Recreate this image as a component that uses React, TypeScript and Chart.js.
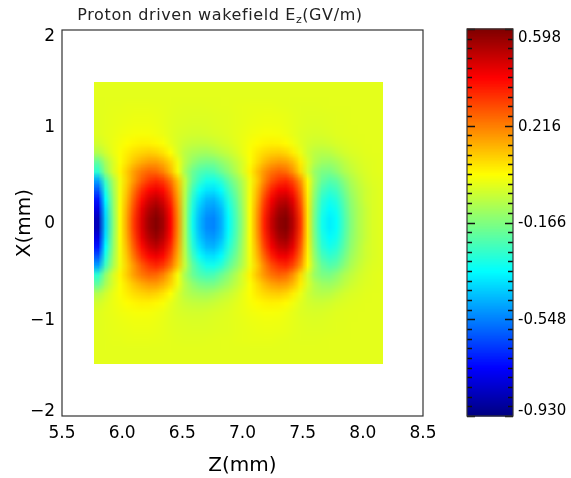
import React, { useEffect, useRef } from "react";
import { Chart, registerables } from "chart.js";

Chart.register(...registerables);

// ---- data ----
const zCenters = [
  5.80, 5.86, 5.92, 5.98, 6.04, 6.10, 6.16, 6.22, 6.28, 6.34,
  6.40, 6.46, 6.52, 6.58, 6.64, 6.70, 6.76, 6.82, 6.88, 6.94,
  7.00, 7.06, 7.12, 7.18, 7.24, 7.30, 7.36, 7.42, 7.48, 7.54,
  7.60, 7.66, 7.72, 7.78, 7.84, 7.90, 7.96, 8.02, 8.08, 8.14,
];
// |X| of each row (field is axisymmetric, mirrored for negative X)
const xHalfCenters = [
  0.049, 0.146, 0.243, 0.341, 0.438, 0.535, 0.632, 0.730, 0.827, 0.924,
  1.022, 1.119, 1.216, 1.314, 1.411,
];
// Ez (GV/m), row i corresponds to xHalfCenters[i], column j to zCenters[j]
const ezRow0 = [-0.84,-0.42,-0.17,0.02,0.17,0.33,0.46,0.55,0.59,0.54,0.41,0.20,-0.10,-0.33,-0.46,-0.53,-0.54,-0.48,-0.36,-0.25,-0.13,0.02,0.18,0.36,0.49,0.57,0.59,0.51,0.33,0.06,-0.19,-0.33,-0.38,-0.35,-0.25,-0.16,-0.10,-0.06,-0.03,-0.02];
const ezRow1 = [-0.78,-0.40,-0.16,0.02,0.16,0.31,0.44,0.52,0.56,0.51,0.39,0.19,-0.10,-0.31,-0.44,-0.50,-0.51,-0.46,-0.34,-0.24,-0.12,0.02,0.17,0.34,0.46,0.54,0.56,0.48,0.31,0.06,-0.18,-0.31,-0.36,-0.33,-0.24,-0.15,-0.10,-0.06,-0.03,-0.02];
const ezRow2 = [-0.71,-0.36,-0.15,0.015,0.14,0.28,0.39,0.47,0.505,0.46,0.35,0.17,-0.09,-0.29,-0.40,-0.46,-0.47,-0.415,-0.31,-0.22,-0.11,0.015,0.15,0.31,0.42,0.49,0.505,0.44,0.28,0.05,-0.165,-0.29,-0.33,-0.30,-0.22,-0.14,-0.09,-0.05,-0.03,-0.02];
const ezRow3 = [-0.61,-0.315,-0.13,0.01,0.12,0.24,0.34,0.40,0.43,0.395,0.30,0.145,-0.08,-0.25,-0.345,-0.395,-0.40,-0.36,-0.27,-0.19,-0.10,0.01,0.13,0.26,0.36,0.42,0.43,0.37,0.24,0.04,-0.145,-0.25,-0.285,-0.26,-0.19,-0.12,-0.08,-0.05,-0.03,-0.02];
const ezRow4 = [-0.50,-0.26,-0.11,0.005,0.10,0.19,0.27,0.325,0.35,0.32,0.24,0.115,-0.065,-0.205,-0.28,-0.325,-0.33,-0.295,-0.22,-0.155,-0.085,0.005,0.10,0.21,0.29,0.335,0.35,0.30,0.19,0.03,-0.12,-0.205,-0.235,-0.215,-0.155,-0.10,-0.065,-0.04,-0.025,-0.02];
const ezRow5 = [-0.29,-0.14,-0.04,0.035,0.105,0.175,0.225,0.255,0.25,0.21,0.13,0.015,-0.105,-0.19,-0.235,-0.255,-0.245,-0.20,-0.15,-0.095,-0.035,0.04,0.115,0.185,0.235,0.26,0.245,0.185,0.08,-0.04,-0.13,-0.17,-0.175,-0.145,-0.10,-0.07,-0.045,-0.03,-0.02,-0.015];
const ezRow6 = [-0.21,-0.105,-0.035,0.02,0.07,0.115,0.15,0.17,0.17,0.14,0.09,0.005,-0.08,-0.135,-0.17,-0.18,-0.175,-0.145,-0.11,-0.07,-0.03,0.02,0.075,0.125,0.16,0.175,0.165,0.125,0.05,-0.03,-0.09,-0.12,-0.125,-0.105,-0.075,-0.05,-0.035,-0.025,-0.02,-0.015];
const ezRow7 = [-0.09,-0.045,-0.008,0.02,0.05,0.075,0.09,0.10,0.09,0.065,0.025,-0.03,-0.075,-0.10,-0.11,-0.115,-0.10,-0.08,-0.06,-0.037,-0.008,0.022,0.056,0.08,0.096,0.10,0.085,0.05,0.0,-0.048,-0.075,-0.085,-0.08,-0.06,-0.043,-0.03,-0.024,-0.018,-0.016,-0.015];
const ezRow8 = [-0.043,-0.021,-0.004,0.012,0.026,0.037,0.044,0.043,0.034,0.017,-0.009,-0.035,-0.053,-0.063,-0.067,-0.065,-0.056,-0.044,-0.033,-0.019,-0.004,0.014,0.029,0.040,0.045,0.042,0.029,0.006,-0.020,-0.040,-0.049,-0.050,-0.044,-0.034,-0.027,-0.022,-0.018,-0.016,-0.015,-0.015];
const ezRow9 = [-0.023,-0.013,-0.006,0.002,0.009,0.013,0.015,0.013,0.006,-0.004,-0.019,-0.031,-0.037,-0.041,-0.041,-0.038,-0.032,-0.027,-0.021,-0.013,-0.005,0.004,0.010,0.014,0.015,0.011,0.002,-0.011,-0.024,-0.031,-0.033,-0.032,-0.027,-0.022,-0.019,-0.017,-0.016,-0.015,-0.015,-0.015];
const ezRow10 = [-0.020,-0.014,-0.009,-0.005,-0.001,0.002,0.003,0.002,-0.002,-0.009,-0.018,-0.024,-0.028,-0.030,-0.031,-0.029,-0.025,-0.022,-0.018,-0.014,-0.009,-0.004,0.000,0.003,0.003,0.001,-0.005,-0.013,-0.020,-0.024,-0.026,-0.025,-0.022,-0.019,-0.018,-0.016,-0.015,-0.015,-0.015,-0.015];
const ezRow11 = [-0.018,-0.014,-0.011,-0.008,-0.006,-0.004,-0.003,-0.004,-0.006,-0.011,-0.017,-0.021,-0.023,-0.025,-0.025,-0.024,-0.022,-0.020,-0.018,-0.014,-0.011,-0.008,-0.005,-0.003,-0.003,-0.005,-0.008,-0.014,-0.019,-0.022,-0.022,-0.022,-0.020,-0.018,-0.017,-0.015,-0.015,-0.015,-0.015,-0.015];
const ezRow12 = [-0.017,-0.015,-0.013,-0.012,-0.010,-0.009,-0.009,-0.009,-0.011,-0.013,-0.016,-0.018,-0.020,-0.020,-0.020,-0.018,-0.017,-0.016,-0.015,-0.013,-0.011,-0.010,-0.009,-0.009,-0.010,-0.012,-0.014,-0.017,-0.018,-0.019,-0.018,-0.017,-0.016,-0.015,-0.015,-0.015,-0.015,-0.015,-0.015,-0.015];
const ezRow13 = [-0.015,-0.015,-0.015,-0.015,-0.015,-0.015,-0.015,-0.015,-0.015,-0.015,-0.015,-0.015,-0.015,-0.015,-0.015,-0.015,-0.015,-0.015,-0.015,-0.015,-0.015,-0.015,-0.015,-0.015,-0.015,-0.015,-0.015,-0.015,-0.015,-0.015,-0.015,-0.015,-0.015,-0.015,-0.015,-0.015,-0.015,-0.015,-0.015,-0.015];
const ezRow14 = [-0.015,-0.015,-0.015,-0.015,-0.015,-0.015,-0.015,-0.015,-0.015,-0.015,-0.015,-0.015,-0.015,-0.015,-0.015,-0.015,-0.015,-0.015,-0.015,-0.015,-0.015,-0.015,-0.015,-0.015,-0.015,-0.015,-0.015,-0.015,-0.015,-0.015,-0.015,-0.015,-0.015,-0.015,-0.015,-0.015,-0.015,-0.015,-0.015,-0.015];
const ezHalfRows = [ezRow0, ezRow1, ezRow2, ezRow3, ezRow4, ezRow5, ezRow6, ezRow7, ezRow8, ezRow9, ezRow10, ezRow11, ezRow12, ezRow13, ezRow14];

const zTicks = [5.5, 6.0, 6.5, 7.0, 7.5, 8.0, 8.5];
const xTicks = [-2, -1, 0, 1, 2];
const colorbarTicks = [-0.930, -0.548, -0.166, 0.216, 0.598];
const colorMin = -0.930;
const colorMax = 0.598;

// ---- helpers ----
const clamp01 = (v: number) => Math.max(0, Math.min(1, v));
function jet(t: number): [number, number, number] {
  t = clamp01(t);
  const r = clamp01(1.5 - Math.abs(4 * t - 3));
  const g = clamp01(1.5 - Math.abs(4 * t - 2));
  const b = clamp01(1.5 - Math.abs(4 * t - 1));
  return [Math.round(r * 255), Math.round(g * 255), Math.round(b * 255)];
}
const norm = (v: number) => (v - colorMin) / (colorMax - colorMin);
const FONT = "'DejaVu Sans', sans-serif";

const heatmapPlugin = {
  id: "heatmap",
  beforeDatasetsDraw(chart: any) {
    const { ctx, scales } = chart;
    const xs = scales.x, ys = scales.y;
    const rows = [...ezHalfRows].reverse().concat(ezHalfRows);
    const nC = zCenters.length;
    const nR = rows.length;
    const off = document.createElement("canvas");
    off.width = nC;
    off.height = nR;
    const octx = off.getContext("2d")!;
    const img = octx.createImageData(nC, nR);
    rows.forEach((row, r) => {
      row.forEach((v, c) => {
        const [R, G, B] = jet(norm(v));
        const i = (r * nC + c) * 4;
        img.data[i] = R; img.data[i + 1] = G; img.data[i + 2] = B; img.data[i + 3] = 255;
      });
    });
    octx.putImageData(img, 0, 0);
    const dz = zCenters[1] - zCenters[0];
    const dx = xHalfCenters[1] - xHalfCenters[0];
    const xMaxEdge = xHalfCenters[xHalfCenters.length - 1] + dx / 2;
    const left = xs.getPixelForValue(zCenters[0] - dz / 2);
    const right = xs.getPixelForValue(zCenters[nC - 1] + dz / 2);
    const top = ys.getPixelForValue(xMaxEdge);
    const bottom = ys.getPixelForValue(-xMaxEdge);
    ctx.save();
    ctx.imageSmoothingEnabled = true;
    ctx.drawImage(off, left, top, right - left, bottom - top);
    ctx.restore();
  },
};

const framePlugin = {
  id: "frame",
  afterDraw(chart: any) {
    const { ctx, chartArea: a, scales } = chart;
    ctx.save();
    ctx.strokeStyle = "#333";
    ctx.lineWidth = 1.2;
    ctx.strokeRect(a.left, a.top, a.right - a.left, a.bottom - a.top);
    // Y tick labels (end labels kept inside the frame, as in the original)
    ctx.fillStyle = "#000";
    ctx.font = `17px ${FONT}`;
    ctx.textAlign = "right";
    ctx.textBaseline = "middle";
    xTicks.forEach((v) => {
      let y = scales.y.getPixelForValue(v);
      y = Math.max(a.top + 6, Math.min(a.bottom - 5, y));
      const label = v < 0 ? "\u2212" + Math.abs(v) : String(v);
      ctx.fillText(label, a.left - 7, y + 1);
    });
    ctx.restore();
  },
};

const colorbarPlugin = {
  id: "colorbar",
  beforeDatasetsDraw(chart: any) {
    const { ctx, chartArea: a, scales } = chart;
    const ys = scales.y;
    const steps = 256;
    ctx.save();
    for (let k = 0; k < steps; k++) {
      const v0 = colorMin + ((colorMax - colorMin) * k) / steps;
      const v1 = colorMin + ((colorMax - colorMin) * (k + 1)) / steps;
      const [R, G, B] = jet(norm((v0 + v1) / 2));
      ctx.fillStyle = `rgb(${R},${G},${B})`;
      const y0 = ys.getPixelForValue(v0);
      const y1 = ys.getPixelForValue(v1);
      ctx.fillRect(a.left, Math.min(y0, y1) - 0.5, a.right - a.left, Math.abs(y1 - y0) + 1);
    }
    // tick marks
    ctx.strokeStyle = "#111";
    ctx.lineWidth = 1.3;
    const n = 40;
    for (let k = 0; k <= n; k++) {
      const v = colorMin + ((colorMax - colorMin) * k) / n;
      const y = Math.round(ys.getPixelForValue(v)) + 0.5;
      const len = k % 10 === 0 ? 8 : 5;
      ctx.beginPath();
      ctx.moveTo(a.left, y); ctx.lineTo(a.left + len, y);
      ctx.moveTo(a.right, y); ctx.lineTo(a.right - len, y);
      ctx.stroke();
    }
    ctx.strokeStyle = "#333";
    ctx.lineWidth = 1.2;
    ctx.strokeRect(a.left, a.top, a.right - a.left, a.bottom - a.top);
    // labels
    ctx.fillStyle = "#000";
    ctx.font = `15px ${FONT}`;
    ctx.textAlign = "left";
    ctx.textBaseline = "middle";
    colorbarTicks.forEach((v) => {
      let y = ys.getPixelForValue(v);
      y = Math.max(a.top + 8, Math.min(a.bottom - 6, y));
      ctx.fillText(v.toFixed(3), a.right + 5, y + 1);
    });
    ctx.restore();
  },
};

export default function App() {
  const mainRef = useRef<HTMLCanvasElement>(null);
  const cbRef = useRef<HTMLCanvasElement>(null);

  useEffect(() => {
    document.body.style.margin = "0";
    const main = new Chart(mainRef.current!, {
      type: "scatter",
      data: { datasets: [{ data: [] }] },
      options: {
        responsive: false,
        animation: false,
        layout: { padding: { left: 0, top: 30, right: 148, bottom: 0 } },
        plugins: { legend: { display: false }, tooltip: { enabled: false } },
        scales: {
          x: {
            type: "linear",
            min: 5.5,
            max: 8.5,
            afterBuildTicks: (s: any) => { s.ticks = zTicks.map((v) => ({ value: v })); },
            afterFit: (s: any) => { s.height = 62; },
            grid: { display: false, drawTicks: false },
            border: { display: false },
            ticks: {
              callback: (v: any) => Number(v).toFixed(1),
              padding: 7,
              color: "#000",
              maxRotation: 0,
              autoSkip: false,
              font: { family: FONT, size: 17 },
            },
            title: {
              display: true,
              text: "Z(mm)",
              color: "#000",
              font: { family: FONT, size: 20 },
              padding: { top: 0, bottom: 0 },
            },
          },
          y: {
            type: "linear",
            min: -2,
            max: 2,
            afterBuildTicks: (s: any) => { s.ticks = xTicks.map((v) => ({ value: v })); },
            afterFit: (s: any) => { s.width = 62; },
            grid: { display: false, drawTicks: false },
            border: { display: false },
            ticks: { display: false },
            title: {
              display: true,
              text: "X(mm)",
              color: "#000",
              font: { family: FONT, size: 20 },
              padding: { top: 13, bottom: 0 },
            },
          },
        },
      },
      plugins: [heatmapPlugin, framePlugin],
    } as any);

    const cb = new Chart(cbRef.current!, {
      type: "scatter",
      data: { datasets: [{ data: [] }] },
      options: {
        responsive: false,
        animation: false,
        layout: { padding: { left: 467, top: 29, right: 0, bottom: 62 } },
        plugins: { legend: { display: false }, tooltip: { enabled: false } },
        scales: {
          x: { display: false, min: 0, max: 1 },
          y: {
            type: "linear",
            position: "right",
            min: colorMin,
            max: colorMax,
            afterBuildTicks: (s: any) => { s.ticks = colorbarTicks.map((v) => ({ value: v })); },
            afterFit: (s: any) => { s.width = 58; },
            grid: { display: false, drawTicks: false },
            border: { display: false },
            ticks: { display: false },
          },
        },
      },
      plugins: [colorbarPlugin],
    } as any);

    return () => {
      main.destroy();
      cb.destroy();
    };
  }, []);

  return (
    <div style={{ position: "relative", width: 571, height: 478, background: "#fff" }}>
      <canvas ref={mainRef} width={571} height={478} style={{ position: "absolute", left: 0, top: 0 }} />
      <canvas ref={cbRef} width={571} height={478} style={{ position: "absolute", left: 0, top: 0 }} />
      <div
        style={{
          position: "absolute",
          left: 0,
          top: 5,
          width: 440,
          textAlign: "center",
          fontFamily: FONT,
          fontSize: 16,
          lineHeight: "20px",
          color: "#222",
          letterSpacing: 0.6,
        }}
      >
        Proton driven wakefield E<sub style={{ fontSize: 11, verticalAlign: "-3px", lineHeight: 0 }}>z</sub>(GV/m)
      </div>
    </div>
  );
}
